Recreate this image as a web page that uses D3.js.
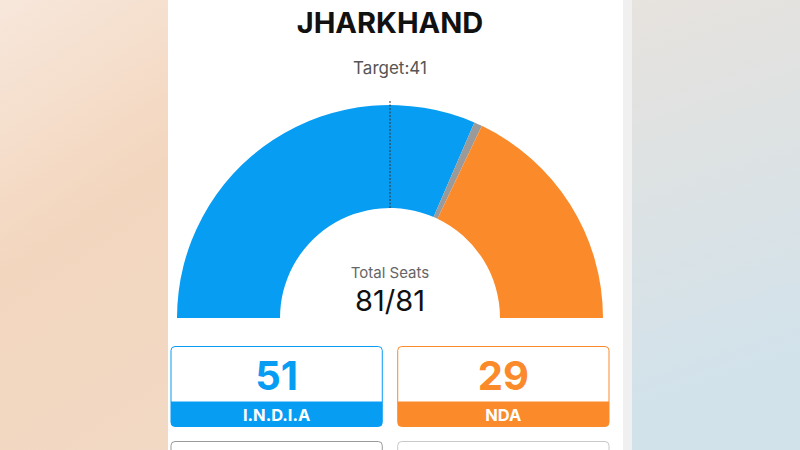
<!DOCTYPE html>
<html>
<head>
<meta charset="utf-8">
<script src="https://cdn.jsdelivr.net/npm/d3@7"></script>
<style>
  html, body { margin: 0; padding: 0; background: #fff; }
  svg { display: block; font-family: Inter, "Noto Sans", sans-serif; }
</style>
</head>
<body>
<svg id="chart" width="800" height="450"></svg>
<script>
// Jharkhand assembly result: seats by alliance
const state = "JHARKHAND";
const target = 41;
const totalSeats = 81;
const declared = 81;
const parties = ["I.N.D.I.A", "Others", "NDA"];
const seats = [51, 1, 29];
const partyColors = ["#079df3", "#9a9a9a", "#fb8a2b"];
// result cards shown under the gauge
const cardParties = ["I.N.D.I.A", "NDA"];
const cardSeats = [51, 29];
const cardColors = ["#079df3", "#fb8a2b"];

const svg = d3.select("#chart");
const W = 800, H = 450;

// page backdrop: warm on the left, cool on the right
const defs = svg.append("defs");
const bgL = defs.append("linearGradient").attr("id", "bgL")
  .attr("x1", 0).attr("y1", 0).attr("x2", 0.6).attr("y2", 1);
bgL.append("stop").attr("offset", "0%").attr("stop-color", "#f7e7db");
bgL.append("stop").attr("offset", "45%").attr("stop-color", "#f3d6be");
bgL.append("stop").attr("offset", "100%").attr("stop-color", "#f2dac6");
const bgR = defs.append("linearGradient").attr("id", "bgR")
  .attr("x1", 0).attr("y1", 0).attr("x2", 0.3).attr("y2", 1);
bgR.append("stop").attr("offset", "0%").attr("stop-color", "#ebe4de");
bgR.append("stop").attr("offset", "35%").attr("stop-color", "#e2e2e0");
bgR.append("stop").attr("offset", "100%").attr("stop-color", "#d2e2eb");
svg.append("rect").attr("width", 400).attr("height", H).attr("fill", "url(#bgL)");
svg.append("rect").attr("x", 400).attr("width", 400).attr("height", H).attr("fill", "url(#bgR)");

// card panel
svg.append("rect").attr("x", 168).attr("y", 0).attr("width", 464).attr("height", H).attr("fill", "#f0f0f0");
svg.append("rect").attr("x", 168).attr("y", 0).attr("width", 455).attr("height", H).attr("fill", "#ffffff");

const cx = 390, cy = 318;

svg.append("text").attr("x", cx).attr("y", 33).attr("text-anchor", "middle")
  .attr("font-size", 29).attr("font-weight", 700).attr("fill", "#111").text(state);
svg.append("text").attr("x", cx).attr("y", 74).attr("text-anchor", "middle")
  .attr("font-size", 17).attr("fill", "#555").text("Target:" + target);

// half-donut gauge
const pie = d3.pie().sort(null).startAngle(-Math.PI / 2).endAngle(Math.PI / 2);
const arc = d3.arc().innerRadius(110).outerRadius(213);
const g = svg.append("g").attr("transform", `translate(${cx},${cy})`);
g.selectAll("path").data(pie(seats)).join("path")
  .attr("d", arc).attr("fill", (d, i) => partyColors[i]);

// majority marker
const angle = d3.scaleLinear().domain([0, totalSeats]).range([-Math.PI / 2, Math.PI / 2]);
const markA = angle(totalSeats / 2);
g.append("line")
  .attr("x1", Math.sin(markA) * 110).attr("y1", -Math.cos(markA) * 110)
  .attr("x2", Math.sin(markA) * 218).attr("y2", -Math.cos(markA) * 218)
  .attr("stroke", "#333").attr("stroke-width", 1).attr("stroke-dasharray", "2,1.5");

svg.append("text").attr("x", cx).attr("y", 278).attr("text-anchor", "middle")
  .attr("font-size", 15).attr("fill", "#666").text("Total Seats");
svg.append("text").attr("x", cx).attr("y", 311).attr("text-anchor", "middle")
  .attr("font-size", 29).attr("fill", "#111").text(declared + "/" + totalSeats);

// result cards
const cardX = d3.scaleBand().domain(cardParties).range([171, 609]).paddingInner(0.068);
const cw = cardX.bandwidth();
cardParties.forEach((p, i) => {
  const x = cardX(p), y = 346.5, h = 80;
  const cg = svg.append("g");
  cg.append("clipPath").attr("id", "clip" + i)
    .append("rect").attr("x", x).attr("y", y).attr("width", cw).attr("height", h).attr("rx", 4);
  cg.append("rect").attr("x", x).attr("y", y + 55).attr("width", cw).attr("height", h - 55)
    .attr("fill", cardColors[i]).attr("clip-path", `url(#clip${i})`);
  cg.append("rect").attr("x", x).attr("y", y).attr("width", cw).attr("height", h).attr("rx", 4)
    .attr("fill", "none").attr("stroke", cardColors[i]).attr("stroke-width", 1);
  cg.append("text").attr("x", x + cw / 2).attr("y", 390).attr("text-anchor", "middle")
    .attr("font-size", 40).attr("font-weight", 700).attr("fill", cardColors[i]).text(cardSeats[i]);
  cg.append("text").attr("x", x + cw / 2).attr("y", 421).attr("text-anchor", "middle")
    .attr("font-size", 16.5).attr("font-weight", 700).attr("fill", "#fff").text(p);
  // next row of cards, cut off by the page edge
  svg.append("rect").attr("x", x).attr("y", 441.5).attr("width", cw).attr("height", 40).attr("rx", 4)
    .attr("fill", "#fff").attr("stroke", i === 0 ? "#9a9a9a" : "#c8c8c8").attr("stroke-width", 1);
});
</script>
</body>
</html>
